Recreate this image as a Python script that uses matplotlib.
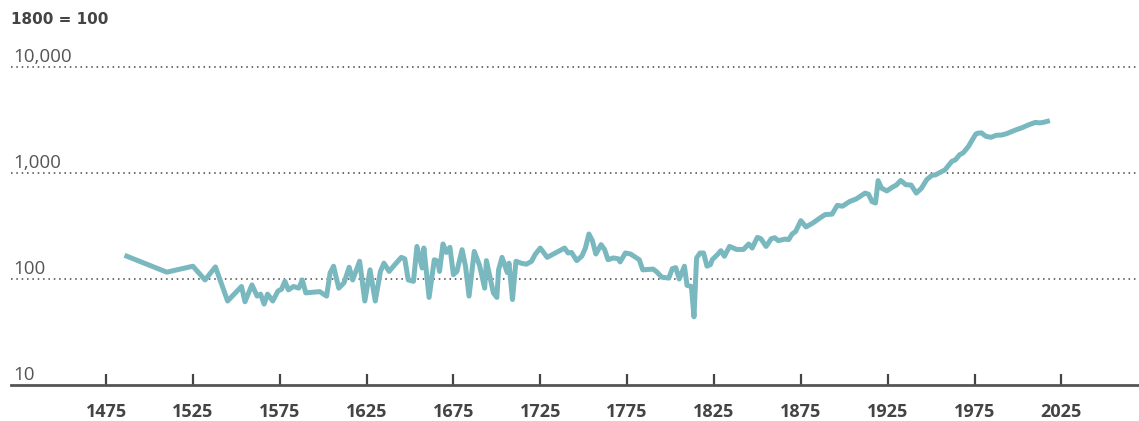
import matplotlib
matplotlib.use("Agg")
import matplotlib.pyplot as plt
from matplotlib.ticker import NullLocator

plt.rcParams['font.family'] = ['Open Sans', 'DejaVu Sans']

# index, 1800 = 100
years = [1487, 1510, 1525, 1532, 1538, 1545, 1553, 1555, 1559, 1562,
         1564, 1566, 1568, 1571, 1574, 1576, 1578, 1580, 1583, 1586,
         1588, 1590, 1598, 1602, 1604, 1606, 1609, 1612, 1615, 1617,
         1621, 1624, 1627, 1630, 1633, 1635, 1638, 1641, 1645, 1647,
         1649, 1652, 1654, 1657, 1658, 1661, 1664, 1666, 1667, 1669,
         1671, 1673, 1675, 1677, 1680, 1682, 1684, 1687, 1690, 1693,
         1694, 1698, 1700, 1701, 1703, 1706, 1707, 1709, 1711, 1714,
         1717, 1720, 1722, 1725, 1729, 1739, 1741, 1743, 1746, 1749,
         1751, 1753, 1755, 1757, 1760, 1762, 1764, 1767, 1770, 1771,
         1774, 1777, 1782, 1784, 1790, 1792, 1795, 1799, 1801, 1803,
         1805, 1808, 1809.5, 1812, 1813.5, 1815, 1817, 1819, 1821, 1823,
         1824, 1827, 1829, 1831, 1834, 1838, 1842, 1845, 1847, 1850,
         1852, 1855, 1858, 1860, 1862, 1866, 1868, 1870, 1872, 1875,
         1878, 1882, 1886, 1889, 1893, 1896, 1899, 1903, 1907, 1912,
         1914, 1916, 1918, 1919.5, 1921.5, 1924.5, 1927.5, 1930, 1932.5, 1935.5,
         1938.5, 1941.5, 1944.5, 1947.5, 1950.5, 1952.5, 1955.5, 1958, 1962, 1964,
         1966.5, 1968.5, 1971.5, 1975.5, 1976.5, 1979, 1981.5, 1984.5, 1987.5, 1990.5,
         1993.5, 1998.5, 2002, 2006, 2010, 2012.5, 2014.5, 2017]
index = [164, 116, 132, 98, 130, 62, 85, 61, 88, 69,
         72, 58, 72, 62, 77, 80, 95, 79, 85, 82,
         98, 74, 76, 69, 114, 132, 82, 92, 129, 98,
         147, 62, 122, 62, 118, 141, 118, 135, 160, 155,
         98, 95, 203, 127, 196, 67, 152, 147, 118, 214,
         178, 199, 110, 118, 189, 131, 69, 182, 135, 82,
         149, 74, 67, 122, 160, 115, 141, 64, 147, 141,
         138, 147, 170, 196, 160, 196, 176, 178, 149, 165,
         196, 266, 230, 172, 211, 190, 152, 158, 155, 145,
         176, 172, 152, 122, 124, 117, 104, 102, 125, 128,
         100, 132, 87, 85, 44, 158, 176, 176, 132, 137,
         152, 170, 185, 164, 203, 190, 190, 214, 196, 247,
         240, 203, 240, 245, 230, 238, 235, 266, 280, 355,
         310, 338, 376, 405, 409, 495, 486, 537, 570, 646,
         630, 537, 521, 847, 720, 677, 731, 770, 850, 775,
         770, 646, 720, 866, 950, 960, 1020, 1070, 1290, 1330,
         1490, 1550, 1780, 2300, 2370, 2390, 2220, 2170, 2270, 2280,
         2350, 2540, 2660, 2840, 3000, 2970, 3000, 3075]

xticks = [1475, 1525, 1575, 1625, 1675, 1725, 1775, 1825, 1875, 1925, 1975, 2025]
ygrid = [100, 1000, 10000]
ylabels = ['10', '100', '1,000', '10,000']
yvals = [10, 100, 1000, 10000]

W, H = 1139, 421
fig = plt.figure(figsize=(W / 100, H / 100), dpi=100)
ax = fig.add_axes([11 / W, 36 / H, 1128 / W, 355 / H])

ax.plot(years, index, color='#7ab8bf', lw=3.6, solid_joinstyle='round', zorder=3)

ax.set_yscale('log')
ax.set_ylim(10, 10 ** 4.349)
ax.set_xlim(1420.3, 2069.7)

for g in ygrid:
    ax.axhline(g, color='#444444', lw=1.1, ls=(0, (1, 2.5)), zorder=1)

for v, lab in zip(yvals, ylabels):
    ax.text(0.002, v * 1.03, lab, transform=ax.get_yaxis_transform(),
            ha='left', va='bottom', fontsize=13.5, color='#555555')

fig.text(11 / W, (H - 20) / H, '1800 = 100', ha='left', va='center',
         fontsize=11, fontweight='bold', color='#444444', family='DejaVu Sans')

ax.set_yticks([])
ax.yaxis.set_minor_locator(NullLocator())
ax.set_xticks(xticks)
ax.set_xticklabels([str(t) for t in xticks], fontsize=13, fontweight='bold', color='#444444')
ax.tick_params(axis='x', direction='in', length=8, width=1.6, color='#444444', pad=13)

for s in ['top', 'right', 'left']:
    ax.spines[s].set_visible(False)
ax.spines['bottom'].set_color('#555555')
ax.spines['bottom'].set_linewidth(2)

fig.savefig('out.png', dpi=100)
